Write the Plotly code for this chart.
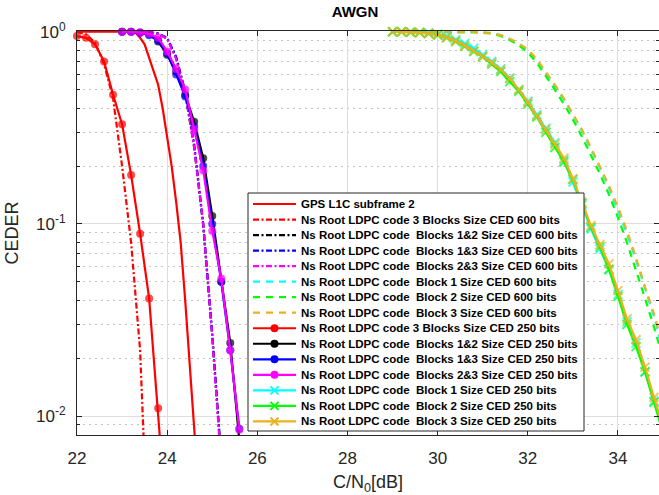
import math
import plotly.graph_objects as go

# ---------------- data ----------------
# GPS L1C subframe 2 (reference curve, no markers)
snr_gps = [22.0, 23.0, 23.2, 23.3, 23.4, 23.5, 23.6, 23.7, 23.8, 23.9, 24.0, 24.1, 24.2, 24.3, 24.4, 24.5, 24.6, 24.7]
ceder_gps = [1.0, 1.0, 1.0, 0.99, 0.93, 0.86, 0.73, 0.63, 0.53, 0.40, 0.28, 0.20, 0.13, 0.08, 0.04, 0.019, 0.009, 0.004]

# 3 blocks, CED 600 / 250 bits
snr_3b_600 = [22.0, 22.2, 22.4, 22.6, 22.8, 23.0, 23.2, 23.4, 23.6]
ceder_3b_600 = [1.0, 0.97, 0.88, 0.68, 0.45, 0.2, 0.08, 0.022, 0.0015]
snr_3b_250 = [22.0, 22.2, 22.4, 22.6, 22.8, 23.0, 23.2, 23.4, 23.6, 23.8, 24.0]
ceder_3b_250 = [0.95, 0.93, 0.86, 0.70, 0.47, 0.33, 0.18, 0.089, 0.041, 0.011, 0.0025]

# two-block combinations, CED 600 bits
snr_2b_600 = [23.0, 23.2, 23.4, 23.6, 23.8, 24.0, 24.2, 24.4, 24.6, 24.8, 25.0, 25.2]
ceder_b12_600 = [1.0, 1.0, 1.0, 0.993, 0.975, 0.92, 0.73, 0.48, 0.25, 0.098, 0.026, 0.0058]
ceder_b13_600 = [1.0, 1.0, 1.0, 0.995, 0.98, 0.93, 0.74, 0.49, 0.26, 0.1, 0.027, 0.006]
ceder_b23_600 = [1.0, 1.0, 1.0, 0.995, 0.975, 0.92, 0.72, 0.48, 0.25, 0.1, 0.026, 0.0055]

# two-block combinations, CED 250 bits
snr_2b_250 = [23.0, 23.2, 23.4, 23.6, 23.8, 24.0, 24.2, 24.4, 24.6, 24.8, 25.0, 25.2, 25.4, 25.6]
ceder_b12_250 = [1.0, 1.0, 0.99, 0.97, 0.89, 0.76, 0.62, 0.47, 0.34, 0.22, 0.11, 0.05, 0.024, 0.0075]
ceder_b13_250 = [1.0, 1.0, 0.988, 0.96, 0.9, 0.77, 0.6, 0.46, 0.32, 0.2, 0.1, 0.05, 0.022, 0.0086]
ceder_b23_250 = [1.0, 1.0, 0.99, 0.975, 0.93, 0.79, 0.64, 0.5, 0.31, 0.19, 0.092, 0.052, 0.022, 0.0085]

# single blocks, CED 600 and 250 bits
snr_1b = [29.0, 29.2, 29.4, 29.6, 29.8, 30.0, 30.2, 30.4, 30.6, 30.8, 31.0,
          31.2, 31.4, 31.6, 31.8, 32.0, 32.2, 32.4, 32.6, 32.8, 33.0,
          33.2, 33.4, 33.6, 33.8, 34.0, 34.2, 34.4, 34.6, 34.8, 35.0]
ceder_b1_600 = [1.0, 1.0, 1.0, 1.0, 1.0, 1.0, 1.0, 1.0, 0.998, 0.995, 0.99,
                0.984, 0.958, 0.915, 0.865, 0.8, 0.71, 0.61, 0.52, 0.445, 0.37,
                0.305, 0.245, 0.196, 0.153, 0.118, 0.089, 0.065, 0.046, 0.033, 0.022]
ceder_b2_600 = [1.0, 1.0, 1.0, 1.0, 1.0, 1.0, 1.0, 1.0, 0.998, 0.994, 0.988,
                0.978, 0.95, 0.905, 0.85, 0.78, 0.69, 0.59, 0.5, 0.42, 0.35,
                0.285, 0.23, 0.182, 0.142, 0.108, 0.08, 0.058, 0.041, 0.029, 0.02]
ceder_b3_600 = [1.0, 1.0, 1.0, 1.0, 1.0, 1.0, 1.0, 1.0, 0.998, 0.995, 0.99,
                0.985, 0.96, 0.92, 0.87, 0.81, 0.72, 0.62, 0.53, 0.45, 0.375,
                0.31, 0.25, 0.2, 0.158, 0.122, 0.092, 0.067, 0.047, 0.034, 0.023]
ceder_b1_250 = [1.0, 1.0, 0.997, 0.992, 0.985, 0.97, 0.95, 0.91, 0.87, 0.82, 0.76,
                0.7, 0.64, 0.575, 0.5, 0.435, 0.37, 0.315, 0.265, 0.215, 0.165,
                0.125, 0.094, 0.074, 0.058, 0.043, 0.031, 0.024, 0.017, 0.012, 0.0085]
ceder_b2_250 = [1.0, 1.0, 0.995, 0.99, 0.98, 0.96, 0.93, 0.89, 0.84, 0.79, 0.74,
                0.68, 0.62, 0.55, 0.49, 0.42, 0.36, 0.3, 0.25, 0.21, 0.17,
                0.128, 0.096, 0.076, 0.058, 0.042, 0.03, 0.023, 0.017, 0.0118, 0.0082]
ceder_b3_250 = [1.0, 1.0, 0.995, 0.99, 0.98, 0.965, 0.935, 0.895, 0.845, 0.795, 0.745,
                0.69, 0.635, 0.57, 0.5, 0.43, 0.365, 0.31, 0.26, 0.22, 0.172,
                0.13, 0.098, 0.078, 0.062, 0.045, 0.032, 0.025, 0.018, 0.0125, 0.0088]

x_ticks = [22, 24, 26, 28, 30, 32, 34]
y_ticks = [0.01, 0.1, 1]
y_ticktext = ["10<sup>-2</sup>", "10<sup>-1</sup>", "10<sup>0</sup>"]
y_minor = [0.009, 0.02, 0.03, 0.04, 0.05, 0.06, 0.07, 0.08, 0.09,
           0.2, 0.3, 0.4, 0.5, 0.6, 0.7, 0.8, 0.9]

# ---------------- styling ----------------
RED, BLACK, BLUE, MAGENTA = "#ff0000", "#000000", "#0000ff", "#ff00ff"
CYAN, GREEN, ORANGE = "#00ffff", "#00ff00", "#edb120"
DASHDOT = "6px,2.5px,2px,2.5px"
DASH = "7px,6px"
LW = 2.2
FONT = "Liberation Sans, Arial, Helvetica, sans-serif"

W, H = 659, 495
ML, MR, MT, MB = 77, 0, 31, 60
PW, PH = W - ML - MR, H - MT - MB
Y_MIN, Y_MAX = 0.00798, 1.009
X_MIN, X_MAX = 22.0, 34.91


def marker_sizes(values, size):
    # markers that fall below the visible range are hidden
    return [size if v >= Y_MIN else 0 for v in values]


series = [
    # name, x, y, color, dash, symbol
    ("GPS L1C subframe 2", snr_gps, ceder_gps, RED, "solid", None),
    ("Ns Root LDPC code 3 Blocks Size CED 600 bits", snr_3b_600, ceder_3b_600, RED, DASHDOT, None),
    ("Ns Root LDPC code\u00a0 Blocks 1&2 Size CED 600 bits", snr_2b_600, ceder_b12_600, BLACK, DASHDOT, None),
    ("Ns Root LDPC code\u00a0 Blocks 1&3 Size CED 600 bits", snr_2b_600, ceder_b13_600, BLUE, DASHDOT, None),
    ("Ns Root LDPC code\u00a0 Blocks 2&3 Size CED 600 bits", snr_2b_600, ceder_b23_600, MAGENTA, DASHDOT, None),
    ("Ns Root LDPC code\u00a0 Block 1 Size CED 600 bits", snr_1b, ceder_b1_600, CYAN, DASH, None),
    ("Ns Root LDPC code\u00a0 Block 2 Size CED 600 bits", snr_1b, ceder_b2_600, GREEN, DASH, None),
    ("Ns Root LDPC code\u00a0 Block 3 Size CED 600 bits", snr_1b, ceder_b3_600, ORANGE, DASH, None),
    ("Ns Root LDPC code 3 Blocks Size CED 250 bits", snr_3b_250, ceder_3b_250, RED, "solid", "circle"),
    ("Ns Root LDPC code\u00a0 Blocks 1&2 Size CED 250 bits", snr_2b_250, ceder_b12_250, BLACK, "solid", "circle"),
    ("Ns Root LDPC code\u00a0 Blocks 1&3 Size CED 250 bits", snr_2b_250, ceder_b13_250, BLUE, "solid", "circle"),
    ("Ns Root LDPC code\u00a0 Blocks 2&3 Size CED 250 bits", snr_2b_250, ceder_b23_250, MAGENTA, "solid", "circle"),
    ("Ns Root LDPC code\u00a0 Block 1 Size CED 250 bits", snr_1b, ceder_b1_250, CYAN, "solid", "x"),
    ("Ns Root LDPC code\u00a0 Block 2 Size CED 250 bits", snr_1b, ceder_b2_250, GREEN, "solid", "x"),
    ("Ns Root LDPC code\u00a0 Block 3 Size CED 250 bits", snr_1b, ceder_b3_250, ORANGE, "solid", "x"),
]

fig = go.Figure()
for name, xs, ys, color, dash, symbol in series:
    if symbol is None:
        fig.add_trace(go.Scatter(x=xs, y=ys, name=name, mode="lines",
                                 line=dict(color=color, width=LW, dash=dash)))
    elif symbol == "circle":
        fig.add_trace(go.Scatter(x=xs, y=ys, name=name, mode="lines+markers",
                                 line=dict(color=color, width=LW, dash=dash),
                                 marker=dict(symbol="circle", color=color,
                                             size=marker_sizes(ys, 8),
                                             line=dict(width=0)),
                                 cliponaxis=False))
    else:
        fig.add_trace(go.Scatter(x=xs, y=ys, name=name, mode="lines+markers",
                                 line=dict(color=color, width=LW, dash=dash),
                                 marker=dict(symbol="x-thin", color=color,
                                             size=marker_sizes(ys, 9),
                                             line=dict(width=2, color=color)),
                                 cliponaxis=False))


# ---------------- legend box (drawn in paper space) ----------------
def px_x(p):
    return (p - ML) / PW


def px_y(p):
    return 1 - (p - MT) / PH


shapes = [dict(type="rect", xref="paper", yref="paper", layer="above",
               x0=px_x(248), x1=px_x(584), y0=px_y(431), y1=px_y(193),
               fillcolor="white", line=dict(color="#262626", width=1))]
annotations = []
row0, row_step = 204.0, 15.53
s0, s1, sm = 253, 296, 274.5
for i, (name, xs, ys, color, dash, symbol) in enumerate(series):
    yc = row0 + i * row_step
    shapes.append(dict(type="line", xref="paper", yref="paper", layer="above",
                       x0=px_x(s0), x1=px_x(s1), y0=px_y(yc), y1=px_y(yc),
                       line=dict(color=color, width=LW, dash=dash)))
    if symbol == "circle":
        shapes.append(dict(type="circle", xref="paper", yref="paper", layer="above",
                           x0=px_x(sm - 4), x1=px_x(sm + 4),
                           y0=px_y(yc + 4), y1=px_y(yc - 4),
                           fillcolor=color, line=dict(color=color, width=0)))
    elif symbol == "x":
        for d in (-1, 1):
            shapes.append(dict(type="line", xref="paper", yref="paper", layer="above",
                               x0=px_x(sm - 4), x1=px_x(sm + 4),
                               y0=px_y(yc - 4 * d), y1=px_y(yc + 4 * d),
                               line=dict(color=color, width=2)))
    annotations.append(dict(text=name, xref="paper", yref="paper",
                            x=px_x(299), y=px_y(yc), xanchor="left", yanchor="middle",
                            showarrow=False,
                            font=dict(family=FONT, size=11.5, color="black",
                                      weight="bold")))

fig.update_layout(
    width=W, height=H,
    margin=dict(l=ML, r=MR, t=MT, b=MB, pad=0),
    paper_bgcolor="white", plot_bgcolor="white",
    showlegend=False,
    font=dict(family=FONT, color="#262626"),
    title=dict(text="<b>AWGN</b>", x=px_x(355), xref="paper", xanchor="center",
               y=1 - 12 / H, yref="container", yanchor="middle",
               font=dict(family=FONT, size=15, color="black")),
    shapes=shapes,
    annotations=annotations,
)

fig.update_xaxes(
    range=[X_MIN, X_MAX], tickmode="array", tickvals=x_ticks,
    ticks="inside", ticklen=5, tickwidth=1, tickcolor="#262626",
    showline=True, linecolor="#262626", linewidth=1, mirror="ticks",
    showgrid=True, gridcolor="#dedede", gridwidth=1, zeroline=False,
    tickfont=dict(family=FONT, size=17, color="#262626"),
    ticklabelstandoff=8,
    title=dict(text="C/N<sub>0</sub>[dB]", standoff=8,
               font=dict(family=FONT, size=18, color="#262626")),
)
fig.update_yaxes(
    type="log", range=[math.log10(Y_MIN), math.log10(Y_MAX)],
    tickmode="array", tickvals=y_ticks, ticktext=y_ticktext,
    ticks="inside", ticklen=5, tickwidth=1, tickcolor="#262626",
    showline=True, linecolor="#262626", linewidth=1, mirror="ticks",
    showgrid=True, gridcolor="#dedede", gridwidth=1, zeroline=False,
    minor=dict(tickmode="array", tickvals=y_minor, ticks="inside", ticklen=3,
               tickcolor="#262626", showgrid=True, gridcolor="#c4c4c4",
               griddash="2px,4px", gridwidth=1),
    tickfont=dict(family=FONT, size=17, color="#262626"),
    ticklabelstandoff=7,
    title=dict(text="CEDER", standoff=12,
               font=dict(family=FONT, size=18, color="#262626")),
)

fig.write_html("out.html")
